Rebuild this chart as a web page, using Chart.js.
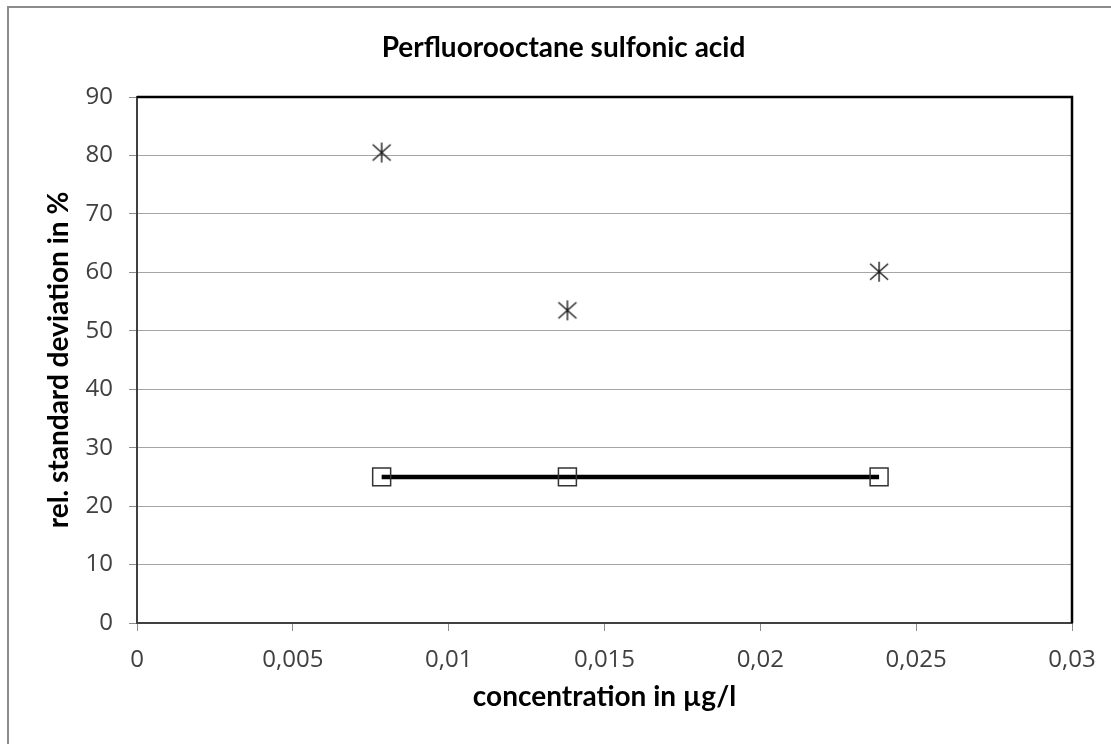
<!DOCTYPE html>
<html>
<head>
<meta charset="utf-8">
<script src="https://cdn.jsdelivr.net/npm/chart.js@4"></script>
<style>
  html, body { margin: 0; padding: 0; background: #fff; }
  #wrap { width: 1111px; height: 744px; position: relative; }
</style>
</head>
<body>
<div id="wrap"><canvas id="c" width="1111" height="744"></canvas></div>
<script>
// ---- data ----
const chartTitle = 'Perfluorooctane sulfonic acid';
const xAxisTitle = 'concentration in µg/l';
const yAxisTitle = 'rel. standard deviation in %';
const concentrations = [0.00785, 0.01381, 0.02381];
const measuredRSD = [80.5, 53.5, 60.1];
const targetRSD = [25, 25, 25];
const xTickLabels = ['0', '0,005', '0,01', '0,015', '0,02', '0,025', '0,03'];
const yTickLabels = ['0', '10', '20', '30', '40', '50', '60', '70', '80', '90'];

// asterisk marker
function makeAsterisk() {
  const s = 22, c = document.createElement('canvas');
  c.width = s; c.height = s;
  const g = c.getContext('2d');
  g.strokeStyle = '#1a1a1a';
  g.lineWidth = 1.4;
  g.beginPath();
  g.moveTo(s / 2, 1); g.lineTo(s / 2, s - 1);
  g.moveTo(2, 3); g.lineTo(s - 2, s - 3);
  g.moveTo(s - 2, 3); g.lineTo(2, s - 3);
  g.stroke();
  return c;
}

const frame = {
  id: 'frame',
  beforeDraw(chart) {
    const ctx = chart.ctx;
    ctx.save();
    ctx.fillStyle = '#fff';
    ctx.fillRect(0, 0, chart.width, chart.height);
    ctx.strokeStyle = '#8c8c8c';
    ctx.lineWidth = 2;
    ctx.beginPath();
    ctx.moveTo(8, chart.height + 5);
    ctx.lineTo(8, 7);
    ctx.lineTo(chart.width + 5, 7);
    ctx.stroke();
    ctx.restore();
  },
  afterDatasetsDraw(chart) {
    const a = chart.chartArea, ctx = chart.ctx;
    ctx.save();
    ctx.strokeStyle = '#000';
    ctx.lineWidth = 2.5;
    ctx.beginPath();
    ctx.moveTo(a.left, a.top);
    ctx.lineTo(a.right, a.top);
    ctx.lineTo(a.right, a.bottom);
    ctx.stroke();
    ctx.restore();
  }
};

const tickFont = '"Open Sans", "Liberation Sans", sans-serif';
const titleFont = 'Lato, "Open Sans", sans-serif';

new Chart(document.getElementById('c'), {
  type: 'scatter',
  data: {
    datasets: [
      {
        label: 'measured',
        data: concentrations.map((x, i) => ({ x, y: measuredRSD[i] })),
        showLine: false,
        pointStyle: makeAsterisk(),
        pointRadius: 11,
        pointHoverRadius: 11
      },
      {
        label: 'target',
        data: concentrations.map((x, i) => ({ x, y: targetRSD[i] })),
        showLine: true,
        borderColor: '#000',
        borderWidth: 4.5,
        pointStyle: 'rect',
        pointRadius: 12.7,
        pointHoverRadius: 12.7,
        pointBorderColor: '#333',
        pointBorderWidth: 1.5,
        pointBackgroundColor: 'rgba(0,0,0,0)'
      }
    ]
  },
  options: {
    responsive: false,
    animation: false,
    events: [],
    layout: { padding: { left: 16, right: 0, top: 0, bottom: 0 } },
    plugins: {
      legend: { display: false },
      tooltip: { enabled: false },
      title: {
        display: true,
        text: chartTitle,
        color: '#000',
        font: { family: titleFont, size: 28, weight: 'bold', lineHeight: 1.2 },
        padding: { top: 31.2, bottom: 32.2 }
      }
    },
    scales: {
      x: {
        type: 'linear',
        min: 0, max: 0.03,
        afterBuildTicks(scale) {
          scale.ticks = xTickLabels.map((_, i) => ({ value: i * 0.005 }));
        },
        afterFit(scale) { scale.height = 121; },
        ticks: {
          padding: 15,
          color: '#404040',
          font: { family: tickFont, size: 24 },
          maxRotation: 0,
          autoSkip: false,
          callback: (v, i) => xTickLabels[i]
        },
        grid: {
          drawOnChartArea: false,
          drawTicks: true,
          tickLength: 8,
          tickColor: '#8c8c8c',
          tickWidth: 1
        },
        border: { color: '#404040', width: 2 },
        title: {
          display: true,
          text: xAxisTitle,
          color: '#000',
          font: { family: titleFont, size: 28, weight: 'bold', lineHeight: 1.2 },
          padding: { top: 0, bottom: 30.2 }
        }
      },
      y: {
        type: 'linear',
        min: 0, max: 90,
        afterBuildTicks(scale) {
          scale.ticks = yTickLabels.map((_, i) => ({ value: i * 10 }));
        },
        afterFit(scale) { scale.width = 121; },
        ticks: {
          padding: 16,
          color: '#404040',
          font: { family: tickFont, size: 24 },
          autoSkip: false,
          callback: (v, i) => yTickLabels[i]
        },
        grid: {
          color: '#a6a6a6',
          lineWidth: 1,
          drawTicks: true,
          tickLength: 8,
          tickColor: '#8c8c8c'
        },
        border: { color: '#404040', width: 2 },
        title: {
          display: true,
          text: yAxisTitle,
          color: '#000',
          font: { family: titleFont, size: 28, weight: 'bold', lineHeight: 1.2 },
          padding: { top: 26, bottom: 0 }
        }
      },
      yRight: {
        type: 'linear',
        position: 'right',
        display: true,
        min: 0, max: 90,
        afterFit(scale) { scale.width = 39; },
        ticks: { display: false },
        grid: { display: false, drawTicks: false },
        border: { display: false },
        title: { display: false }
      }
    }
  },
  plugins: [frame]
});
</script>
</body>
</html>
